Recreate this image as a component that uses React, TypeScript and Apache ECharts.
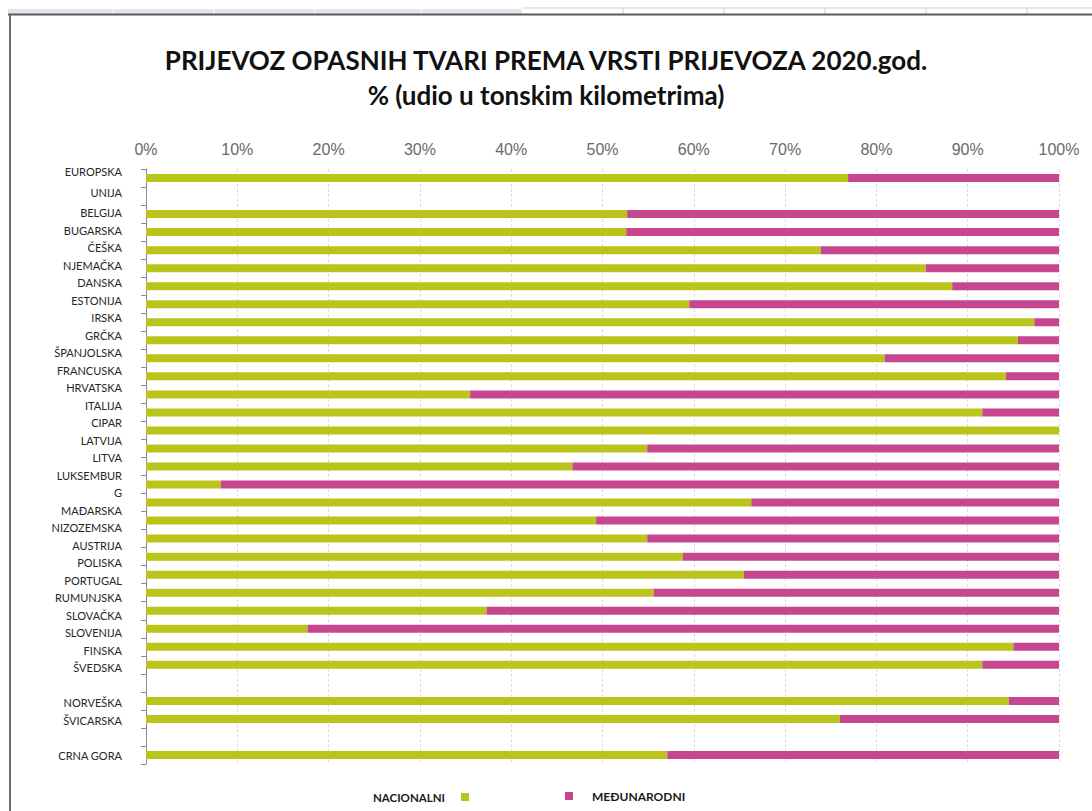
import React, { useEffect, useRef } from "react";
import * as echarts from "echarts";

const categories: string[] = [
  "EUROPSKA UNIJA", "", "BELGIJA", "BUGARSKA", "ČEŠKA", "NJEMAČKA", "DANSKA", "ESTONIJA",
  "IRSKA", "GRČKA", "ŠPANJOLSKA", "FRANCUSKA", "HRVATSKA", "ITALIJA", "CIPAR", "LATVIJA",
  "LITVA", "LUKSEMBURG", "MAĐARSKA", "NIZOZEMSKA", "AUSTRIJA", "POLISKA", "PORTUGAL",
  "RUMUNJSKA", "SLOVAČKA", "SLOVENIJA", "FINSKA", "ŠVEDSKA", " ", "NORVEŠKA", "ŠVICARSKA",
  "  ", "CRNA GORA",
];

// Category labels as the reference prints them (wrapped names take two lines)
const labelLines: string[] = [
  "EUROPSKA", "UNIJA", "BELGIJA", "BUGARSKA", "ČEŠKA", "NJEMAČKA", "DANSKA", "ESTONIJA",
  "IRSKA", "GRČKA", "ŠPANJOLSKA", "FRANCUSKA", "HRVATSKA", "ITALIJA", "CIPAR", "LATVIJA",
  "LITVA", "LUKSEMBUR", "G", "MAĐARSKA", "NIZOZEMSKA", "AUSTRIJA", "POLISKA", "PORTUGAL",
  "RUMUNJSKA", "SLOVAČKA", "SLOVENIJA", "FINSKA", "ŠVEDSKA", " ", "NORVEŠKA", "ŠVICARSKA",
  "  ", "CRNA GORA",
];

const nacionalni: (number | null)[] = [
  76.9, null, 52.7, 52.6, 73.9, 85.4, 88.3, 59.5,
  97.3, 95.5, 80.9, 94.2, 35.5, 91.6, 100, 54.9,
  46.7, 8.2, 66.3, 49.3, 54.9, 58.8, 65.5,
  55.6, 37.3, 17.7, 95.0, 91.6, null, 94.5, 76.0,
  null, 57.1,
];

const medjunarodni: (number | null)[] = [
  23.1, null, 47.3, 47.4, 26.1, 14.6, 11.7, 40.5,
  2.7, 4.5, 19.1, 5.8, 64.5, 8.4, 0, 45.1,
  53.3, 91.8, 33.7, 50.7, 45.1, 41.2, 34.5,
  44.4, 62.7, 82.3, 5.0, 8.4, null, 5.5, 24.0,
  null, 42.9,
];

const xTicks: number[] = [0, 10, 20, 30, 40, 50, 60, 70, 80, 90, 100];

const GREEN = "#BBC41B";
const PINK = "#C84690";
const LABEL_FONT = "Lato, 'Noto Sans', sans-serif";

export default function App() {
  const ref = useRef<HTMLDivElement>(null);

  useEffect(() => {
    document.body.style.margin = "0";
    if (!ref.current) return;
    const chart = echarts.init(ref.current, undefined, { renderer: "svg" });

    const option: any = {
      animation: false,
      backgroundColor: "#ffffff",
      title: {
        text: "PRIJEVOZ OPASNIH TVARI PREMA VRSTI PRIJEVOZA 2020.god.\n% (udio u tonskim kilometrima)",
        left: "center",
        top: 37,
        textStyle: {
          fontFamily: LABEL_FONT,
          fontSize: 26,
          fontWeight: "bold",
          color: "#111111",
          lineHeight: 35,
        },
      },
      legend: [
        {
          data: ["NACIONALNI"],
          left: 368,
          top: 786,
          align: "right",
          icon: "rect",
          itemWidth: 8,
          itemHeight: 8,
          selectedMode: false,
          textStyle: {
            fontFamily: LABEL_FONT,
            fontSize: 11.5,
            fontWeight: "bold",
            color: "#1a1a1a",
            padding: [0, 11, 0, 0],
          },
        },
        {
          data: ["MEĐUNARODNI"],
          left: 560,
          top: 785,
          align: "left",
          icon: "rect",
          itemWidth: 8,
          itemHeight: 8,
          selectedMode: false,
          textStyle: {
            fontFamily: LABEL_FONT,
            fontSize: 12,
            fontWeight: "bold",
            color: "#1a1a1a",
            padding: [8, 0, 0, 14],
          },
        },
      ],
      grid: { left: 146, right: 33, top: 169, height: 595 },
      xAxis: {
        type: "value",
        position: "top",
        min: 0,
        max: 100,
        interval: 10,
        axisLine: { show: false },
        axisTick: { show: false },
        axisLabel: {
          margin: 12,
          color: "#6a6a6a",
          fontFamily: "'Liberation Sans', Arial, sans-serif",
          fontSize: 16,
          formatter: (v: number) => (xTicks.includes(v) ? `${v}%` : ""),
        },
        splitLine: {
          show: true,
          lineStyle: { color: "#dcdcdc", type: [3, 2], width: 1 },
        },
      },
      yAxis: [
        {
          type: "category",
          inverse: true,
          position: "left",
          data: categories,
          axisLine: { show: true, lineStyle: { color: "#8c8c8c", width: 1 } },
          axisTick: { show: true, length: 5, lineStyle: { color: "#8c8c8c" } },
          axisLabel: { show: false },
          splitLine: { show: false },
        },
        {
          type: "category",
          inverse: true,
          position: "left",
          data: labelLines,
          axisLine: { show: false },
          axisTick: { show: false },
          splitLine: { show: false },
          axisLabel: {
            interval: 0,
            margin: 24,
            color: "#262626",
            fontFamily: LABEL_FONT,
            fontSize: 11,
            formatter: (v: string) => {
              if (v === "EUROPSKA") return "{a|EUROPSKA}";
              if (v === "UNIJA") return "{b|UNIJA}";
              return v.trim();
            },
            rich: {
              a: { fontSize: 11, fontFamily: LABEL_FONT, color: "#262626", padding: [0, 0, 12, 0] },
              b: { fontSize: 11, fontFamily: LABEL_FONT, color: "#262626", padding: [0, 0, 6, 0] },
            },
          },
        },
      ],
      series: [
        {
          name: "NACIONALNI",
          type: "bar",
          stack: "total",
          yAxisIndex: 0,
          data: nacionalni,
          barWidth: 8,
          itemStyle: { color: GREEN },
        },
        {
          name: "MEĐUNARODNI",
          type: "bar",
          stack: "total",
          yAxisIndex: 0,
          data: medjunarodni,
          barWidth: 8,
          itemStyle: { color: PINK },
        },
      ],
      graphic: [
        { type: "rect", shape: { x: 8, y: 9, width: 514, height: 5 }, style: { fill: "#dfe6ee" }, silent: true },
        ...[113, 214, 315, 421].map((x) => ({
          type: "line", shape: { x1: x, y1: 9, x2: x, y2: 14 }, style: { stroke: "#ffffff", lineWidth: 1 }, silent: true,
        })),
        { type: "line", shape: { x1: 522, y1: 8, x2: 1092, y2: 8 }, style: { stroke: "#d0d0d0", lineWidth: 1 }, silent: true },
        ...[623, 724, 825, 926, 1027].map((x) => ({
          type: "line", shape: { x1: x, y1: 7, x2: x, y2: 14 }, style: { stroke: "#d0d0d0", lineWidth: 1 }, silent: true,
        })),
        { type: "line", shape: { x1: 8, y1: 14.5, x2: 1092, y2: 14.5 }, style: { stroke: "#5a5a5a", lineWidth: 2 }, silent: true },
        { type: "line", shape: { x1: 10, y1: 14, x2: 10, y2: 811 }, style: { stroke: "#6b6b6b", lineWidth: 2 }, silent: true },
      ],
    };

    chart.setOption(option);
    return () => chart.dispose();
  }, []);

  return (
    <div
      ref={ref}
      style={{ position: "absolute", left: 0, top: 0, width: 1092, height: 811 }}
    />
  );
}
